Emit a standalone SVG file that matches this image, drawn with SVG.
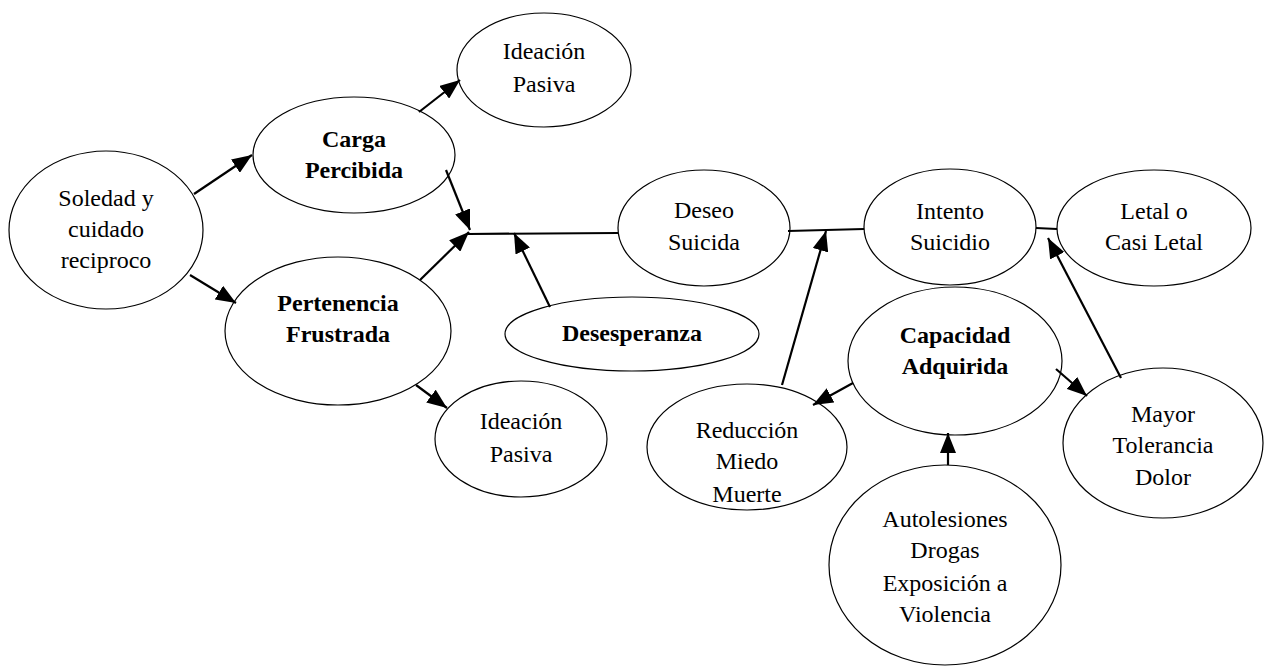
<svg xmlns="http://www.w3.org/2000/svg" width="1272" height="667" viewBox="0 0 1272 667">
<style>
.n ellipse{fill:#fff;stroke:#000;stroke-width:1.2}
.n text{font-family:"Liberation Serif","Times New Roman",serif;font-size:24px;fill:#000;text-anchor:middle}
.n text.b{font-weight:bold}
.c line{stroke:#000;stroke-width:2.2;fill:none}
</style>
<defs>
<marker id="ah" markerUnits="userSpaceOnUse" markerWidth="22" markerHeight="16" refX="20" refY="8" orient="auto">
<path d="M0,0 L20,8 L0,16 z" fill="#000"/>
</marker>
</defs>
<rect width="1272" height="667" fill="#fff"/>
<g id="nodes">
<g id="soledad" class="n"><ellipse cx="106" cy="230" rx="97" ry="79"/><text x="106" y="206">Soledad y</text><text x="106" y="237">cuidado</text><text x="106" y="268">reciproco</text></g>
<g id="carga" class="n"><ellipse cx="354" cy="155" rx="101" ry="58"/><text class="b" x="354" y="147">Carga</text><text class="b" x="354" y="178">Percibida</text></g>
<g id="ideacion1" class="n"><ellipse cx="544" cy="70" rx="87" ry="57"/><text x="544" y="59">Ideación</text><text x="544" y="92">Pasiva</text></g>
<g id="pertenencia" class="n"><ellipse cx="338" cy="331" rx="113" ry="74"/><text class="b" x="338" y="311">Pertenencia</text><text class="b" x="338" y="342">Frustrada</text></g>
<g id="ideacion2" class="n"><ellipse cx="521" cy="439" rx="86" ry="58"/><text x="521" y="429">Ideación</text><text x="521" y="462">Pasiva</text></g>
<g id="desesperanza" class="n"><ellipse cx="632" cy="334" rx="127" ry="37"/><text class="b" x="632" y="341">Desesperanza</text></g>
<g id="deseo" class="n"><ellipse cx="704" cy="228" rx="86" ry="58"/><text x="704" y="218">Deseo</text><text x="704" y="250">Suicida</text></g>
<g id="intento" class="n"><ellipse cx="950" cy="227" rx="86" ry="58"/><text x="950" y="219">Intento</text><text x="950" y="250">Suicidio</text></g>
<g id="letal" class="n"><ellipse cx="1154" cy="228" rx="97" ry="58"/><text x="1154" y="219">Letal o</text><text x="1154" y="250">Casi Letal</text></g>
<g id="capacidad" class="n"><ellipse cx="955" cy="361" rx="107" ry="74"/><text class="b" x="955" y="343">Capacidad</text><text class="b" x="955" y="374">Adquirida</text></g>
<g id="reduccion" class="n"><ellipse cx="747" cy="447" rx="100" ry="63"/><text x="747" y="438">Reducción</text><text x="747" y="469">Miedo</text><text x="747" y="502">Muerte</text></g>
<g id="mayor" class="n"><ellipse cx="1163" cy="443" rx="100" ry="75"/><text x="1163" y="422">Mayor</text><text x="1163" y="453">Tolerancia</text><text x="1163" y="485">Dolor</text></g>
<g id="autolesiones" class="n"><ellipse cx="945" cy="565" rx="116" ry="100"/><text x="945" y="527">Autolesiones</text><text x="945" y="558">Drogas</text><text x="945" y="591">Exposición a</text><text x="945" y="622">Violencia</text></g>
</g>
<g id="connectors" class="c">
<line x1="194" y1="194" x2="252" y2="155" marker-end="url(#ah)"/>
<line x1="190" y1="275" x2="236" y2="303" marker-end="url(#ah)"/>
<line x1="419" y1="112" x2="460" y2="80" marker-end="url(#ah)"/>
<line x1="446" y1="170" x2="470" y2="230" marker-end="url(#ah)"/>
<line x1="420" y1="280" x2="469" y2="232" marker-end="url(#ah)"/>
<line x1="416" y1="385" x2="447" y2="408" marker-end="url(#ah)"/>
<line x1="468" y1="234" x2="618" y2="233"/>
<line x1="550" y1="307" x2="514" y2="233" marker-end="url(#ah)"/>
<line x1="788" y1="231" x2="864" y2="229"/>
<line x1="782" y1="385" x2="826" y2="231" marker-end="url(#ah)"/>
<line x1="1036" y1="228" x2="1057" y2="229"/>
<line x1="1121" y1="378" x2="1048" y2="238" marker-end="url(#ah)"/>
<line x1="853" y1="383" x2="813" y2="405" marker-end="url(#ah)"/>
<line x1="1056" y1="369" x2="1087" y2="396" marker-end="url(#ah)"/>
<line x1="948" y1="465" x2="948" y2="433" marker-end="url(#ah)"/>
</g>
</svg>
